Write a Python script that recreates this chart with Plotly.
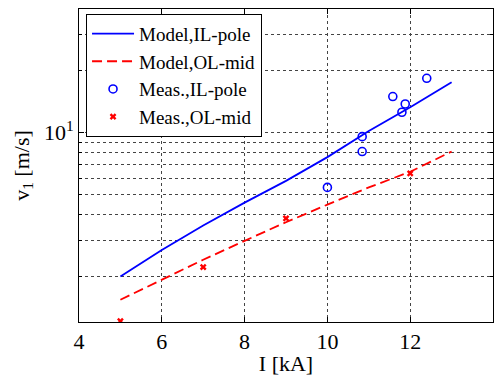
import plotly.graph_objects as go

# Model curves
model_x = [5, 6, 7, 8, 9, 10, 11, 12, 13]
model_il_pole = [2.0, 2.69, 3.54, 4.57, 5.83, 7.61, 10.2, 13.3, 17.6]
model_ol_mid = [1.54, 1.93, 2.41, 2.98, 3.67, 4.47, 5.42, 6.46, 8.1]

# Measurements
meas_il_x = [10.0, 10.84, 10.84, 11.58, 11.80, 11.88, 12.40]
meas_il_y = [5.42, 9.57, 8.1, 15.0, 12.58, 13.8, 18.4]
meas_ol_x = [5, 7, 9, 12]
meas_ol_y = [1.21, 2.22, 3.83, 6.34]

# Axis ticks
x_ticks = [4, 6, 8, 10, 12, 14]
y_major = [10]
y_major_text = ["10<sup>1</sup>"]
y_minor = [2, 3, 4, 5, 6, 7, 8, 9, 20, 30]

FONT = "Liberation Serif"
BLUE = "#0000ff"
RED = "#ff0000"

fig = go.Figure()
fig.add_trace(go.Scatter(x=model_x, y=model_il_pole, mode="lines", name="Model,IL-pole",
                         line=dict(color=BLUE, width=1.8)))
fig.add_trace(go.Scatter(x=model_x, y=model_ol_mid, mode="lines", name="Model,OL-mid",
                         line=dict(color=RED, width=1.8, dash="10px,5px")))
fig.add_trace(go.Scatter(x=meas_il_x, y=meas_il_y, mode="markers", name="Meas.,IL-pole",
                         marker=dict(symbol="circle-open", color=BLUE, size=8, line=dict(width=1.6))))
fig.add_trace(go.Scatter(x=meas_ol_x, y=meas_ol_y, mode="markers", name="Meas.,OL-mid",
                         marker=dict(symbol="x", color=RED, size=6, line=dict(width=0))))

axis_common = dict(
    showline=True, linecolor="black", linewidth=1, mirror="ticks",
    ticks="inside", ticklen=5, tickcolor="black",
    showgrid=True, gridcolor="#444", gridwidth=1, griddash="dot",
    zeroline=False,
    tickfont=dict(family=FONT, size=22, color="black"),
    title_font=dict(family=FONT, size=22, color="black"),
)

fig.update_layout(
    width=503, height=380,
    margin=dict(l=79, r=10, t=8, b=51),
    paper_bgcolor="white", plot_bgcolor="white",
    font=dict(family=FONT, color="black"),
    xaxis=dict(range=[4, 14], tickvals=x_ticks, title=dict(text="I [kA]", standoff=2), **axis_common),
    yaxis=dict(type="log", range=[0.0792, 1.602], tickvals=y_major, ticktext=y_major_text,
               title=dict(text="v<sub>1</sub> [m/s]", standoff=8),
               minor=dict(tickmode="array", tickvals=y_minor, ticks="inside", ticklen=3,
                          tickcolor="black", showgrid=True, gridcolor="#444",
                          gridwidth=1, griddash="dot"),
               **axis_common),
    legend=dict(x=0.017, y=0.985, xanchor="left", yanchor="top",
                bgcolor="white", bordercolor="black", borderwidth=1,
                font=dict(family=FONT, size=19, color="black"),
                tracegroupgap=0, itemwidth=42),
    showlegend=True,
)

fig.write_html("out.html")
